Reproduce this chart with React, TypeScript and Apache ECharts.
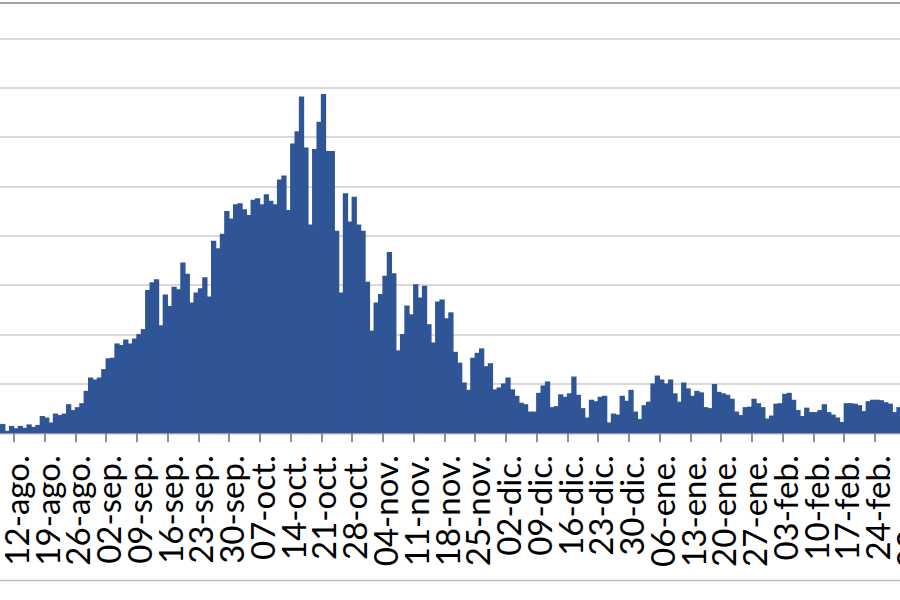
import React, { useEffect, useRef } from "react";
import * as echarts from "echarts";

// Month abbreviations (Spanish) and first day shown for each month
const monthNames = ["ago.", "sep.", "oct.", "nov.", "dic.", "ene.", "feb.", "mar."];
const firstDays = [5, 1, 1, 1, 1, 1, 1, 1];

// Daily values, one array per month
const aug = [14, 12, 16, 17, 19, 5, 15, 10, 15, 11, 18, 13, 17, 35, 32, 22, 40, 37, 40, 59, 47, 53, 61, 86, 113, 109, 113];
const sep = [130, 152, 153, 182, 179, 190, 182, 192, 201, 211, 290, 306, 312, 219, 281, 258, 297, 292, 346, 323, 265, 285, 294, 316, 277, 390, 375, 404, 450, 435];
const oct = [464, 466, 454, 442, 473, 476, 464, 484, 471, 464, 514, 522, 452, 587, 612, 682, 579, 423, 576, 631, 687, 572, 572, 410, 285, 486, 429, 479, 423, 410, 307];
const nov = [208, 265, 282, 319, 367, 324, 168, 201, 259, 241, 302, 275, 299, 221, 184, 267, 271, 233, 245, 165, 143, 103, 88, 153, 163, 172, 136, 142, 89, 93];
const dic = [101, 113, 89, 76, 62, 59, 44, 44, 82, 97, 105, 53, 55, 79, 74, 81, 115, 78, 51, 32, 68, 65, 74, 76, 22, 40, 38, 76, 66, 88, 44];
const ene = [29, 57, 64, 101, 117, 109, 101, 109, 81, 64, 103, 91, 76, 86, 83, 53, 51, 100, 84, 81, 78, 70, 44, 37, 53, 54, 70, 61, 53, 30, 36];
const feb = [60, 61, 80, 82, 68, 47, 35, 52, 43, 43, 47, 59, 43, 38, 32, 23, 61, 61, 60, 57, 45, 65, 68, 68, 67, 63, 60, 43];
const mar = [53, 55, 50];

const months = [aug, sep, oct, nov, dic, ene, feb, mar];

const categories: string[] = [];
const values: number[] = [];
months.forEach((vals, m) => {
  vals.forEach((v, k) => {
    const d = firstDays[m] + k;
    categories.push(String(d).padStart(2, "0") + "-" + monthNames[m]);
    values.push(v);
  });
});

// The reference is a crop of a wider chart: the plot extends past both edges.
const OFFSET_X = -16.75;
const SLOT = 4.3929;
const CHART_W = values.length * SLOT;

export default function App() {
  const ref = useRef<HTMLDivElement>(null);
  useEffect(() => {
    if (!ref.current) return;
    const chart = echarts.init(ref.current, null, { renderer: "svg" });
    chart.setOption({
      animation: false,
      backgroundColor: "#ffffff",
      grid: { left: 0, right: 0, top: 38.3, bottom: 166.7, outerBoundsMode: "none", containLabel: false },
      xAxis: {
        type: "category",
        data: categories,
        boundaryGap: true,
        axisLine: { show: true, lineStyle: { color: "#bfbfbf", width: 1 } },
        axisTick: { show: true, interval: 6, length: 9, lineStyle: { color: "#8f8f8f", width: 2 } },
        axisLabel: {
          interval: 0,
          formatter: (val: string, index: number) => (index % 7 === 0 && index >= 7 ? val : ""),
          hideOverlap: false,
          rotate: 90,
          fontSize: 33,
          lineHeight: 24,
          fontFamily: "Lato",
          color: "#000000",
          margin: 22,
        },
        splitLine: { show: false },
      },
      yAxis: {
        type: "value",
        min: 0,
        max: 800,
        interval: 100,
        axisLabel: { show: false },
        axisLine: { show: false },
        axisTick: { show: false },
        splitLine: { show: true, lineStyle: { color: "#cccccc", width: 1.5 } },
      },
      series: [
        {
          type: "bar",
          data: values,
          barWidth: SLOT + 0.9,
          itemStyle: { color: "#2f5597" },
        },
      ],
      graphic: [
        { type: "line", shape: { x1: 0, y1: 3, x2: CHART_W, y2: 3 }, style: { stroke: "#a3a3a3", lineWidth: 2 } },
        { type: "line", shape: { x1: 0, y1: 580.5, x2: CHART_W, y2: 580.5 }, style: { stroke: "#bdbdbd", lineWidth: 1.5 } },
      ],
    });
    return () => chart.dispose();
  }, []);
  return (
    <div
      style={{ position: "fixed", left: 0, top: 0, width: 900, height: 600, overflow: "hidden", background: "#fff" }}
    >
      <div
        ref={ref}
        style={{ position: "absolute", left: OFFSET_X, top: 0, width: CHART_W, height: 600 }}
      />
    </div>
  );
}
